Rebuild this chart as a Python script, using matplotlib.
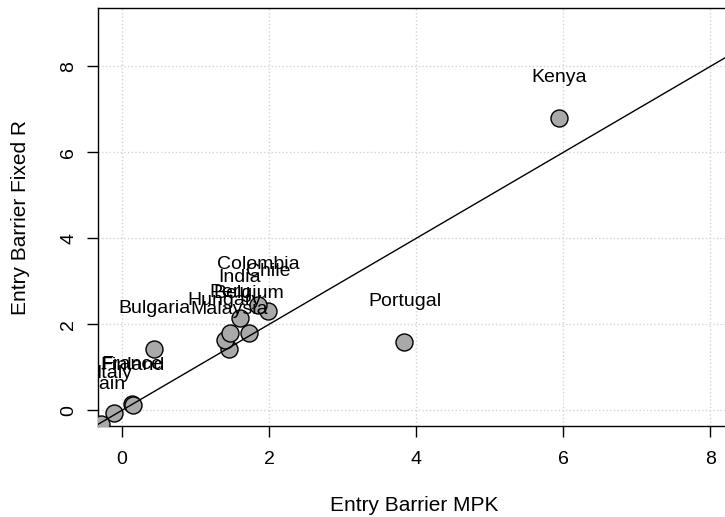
import matplotlib
matplotlib.use("Agg")
import matplotlib.pyplot as plt

plt.rcParams['font.family'] = ['Liberation Sans', 'DejaVu Sans']

# values
countries = ["Kenya", "Portugal", "Bulgaria", "Malaysia", "Hungary", "Peru",
             "Belgium", "India", "Chile", "Colombia", "France", "Finland",
             "Italy", "Spain"]
mpk = [5.94, 3.84, 0.44, 1.46, 1.40, 1.47, 1.73, 1.60, 1.99, 1.85,
       0.14, 0.15, -0.11, -0.29]
fixed_r = [6.81, 1.60, 1.43, 1.42, 1.63, 1.80, 1.79, 2.15, 2.31, 2.46,
           0.14, 0.12, -0.07, -0.33]
ticks = [0, 2, 4, 6, 8]

fig = plt.figure(figsize=(7.25, 5.17), dpi=100)
ax = fig.add_axes([98.3 / 725, 91 / 517, 632 / 725, 417.7 / 517])

ax.grid(True, color="lightgray", linestyle=":", linewidth=1)
ax.set_axisbelow(True)

ax.scatter(mpk, fixed_r, s=150, c="darkgray", edgecolors="black",
           linewidths=1, zorder=3)
ax.axline((0, 0), slope=1, color="black", linewidth=1, zorder=4)

for name, x, y in zip(countries, mpk, fixed_r):
    ax.text(x, y + 0.93, name, ha="center", va="center", fontsize=14,
            zorder=5, clip_on=True)

ax.set_xlim(-0.322, 8.27)
ax.set_ylim(-0.365, 9.35)
ax.set_xticks(ticks)
ax.set_yticks(ticks)
ax.tick_params(labelsize=14, length=8, width=1)
ax.tick_params(axis="x", pad=10)
ax.tick_params(axis="y", labelrotation=90, pad=7)
for lab in ax.get_yticklabels():
    lab.set_va("center")
ax.set_xlabel("Entry Barrier MPK", fontsize=15, labelpad=20)
ax.set_ylabel("Entry Barrier Fixed R", fontsize=15, labelpad=22)
for s in ax.spines.values():
    s.set_linewidth(1)

fig.savefig("out.png", dpi=100)
